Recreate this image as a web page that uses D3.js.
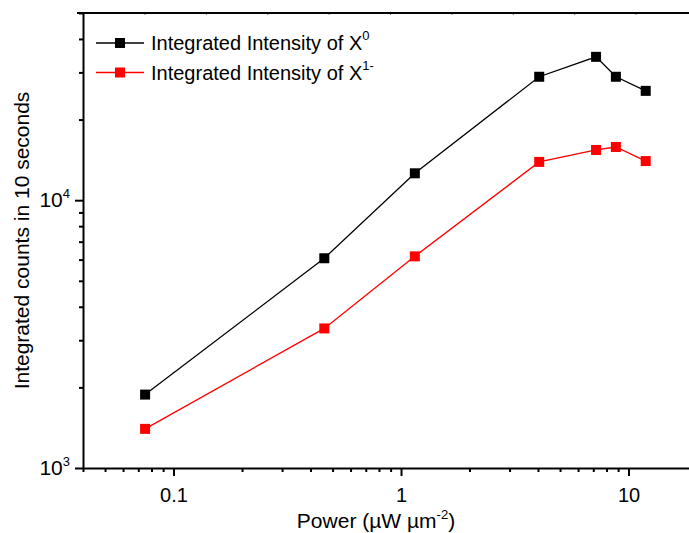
<!DOCTYPE html>
<html>
<head>
<meta charset="utf-8">
<script src="https://cdn.jsdelivr.net/npm/d3@7"></script>
<style>
  body { margin: 0; background: #fff; }
  svg text { font-family: "Liberation Sans", Arial, sans-serif; fill: #000; }
</style>
</head>
<body>
<svg id="chart" width="689" height="533"></svg>
<script>
// data
const power = [0.075, 0.46, 1.15, 4.05, 7.2, 8.8, 11.9];
const neutral = [1880, 6070, 12600, 28900, 34300, 28900, 25600];
const trion = [1400, 3320, 6170, 13900, 15400, 15800, 14000];
const xMajor = [0.1, 1, 10];
const xMinor = [0.04, 0.05, 0.06, 0.07, 0.08, 0.09, 0.2, 0.3, 0.4, 0.5, 0.6, 0.7, 0.8, 0.9, 2, 3, 4, 5, 6, 7, 8, 9, 20];
const yMajor = [1000, 10000];
const yMinor = [2000, 3000, 4000, 5000, 6000, 7000, 8000, 9000, 20000, 30000, 40000, 50000];
const legendBase = "Integrated Intensity of X";
const legendSup = ["0", "1-"];
const colors = ["#000000", "#ff0000"];

const svg = d3.select('#chart');
const margin = { left: 83, top: 13 };
const plotW = 614, plotH = 455;

const x = d3.scaleLog().domain([0.04, 20]).range([margin.left, margin.left + plotW]);
const y = d3.scaleLog().domain([1000, 50000]).range([margin.top + plotH, margin.top]);
const bottom = margin.top + plotH;

// top axis: faint linear ticks as in the original frame
const topScale = d3.scaleLinear().domain([0, 10]).range([margin.left, margin.left + plotW]);
svg.append('g')
    .attr('transform', `translate(0,${margin.top})`)
    .call(d3.axisTop(topScale).ticks(10).tickSize(-2).tickFormat(''))
    .call(g => g.select('.domain').remove())
    .call(g => g.selectAll('line').attr('stroke', '#777').attr('stroke-width', 1));
svg.append('line')
    .attr('x1', margin.left - 6).attr('x2', margin.left + plotW)
    .attr('y1', margin.top).attr('y2', margin.top)
    .attr('stroke', '#000').attr('stroke-width', 2);

// bottom axis
svg.append('g')
    .attr('transform', `translate(0,${bottom})`)
    .call(d3.axisBottom(x).tickValues(xMinor).tickSize(4).tickFormat(''))
    .call(g => g.select('.domain').remove())
    .call(g => g.selectAll('line').attr('stroke-width', 2));
svg.append('g')
    .attr('transform', `translate(0,${bottom})`)
    .call(d3.axisBottom(x).tickValues(xMajor).tickSize(8).tickSizeOuter(0).tickPadding(12).tickFormat(d3.format('~g')))
    .call(g => g.select('.domain').attr('stroke-width', 2))
    .call(g => g.selectAll('line').attr('stroke-width', 2))
    .call(g => g.selectAll('text').attr('font-size', 20).attr('font-family', '"Liberation Sans", Arial, sans-serif'));

// left axis
svg.append('g')
    .attr('transform', `translate(${margin.left},0)`)
    .call(d3.axisLeft(y).tickValues(yMinor).tickSize(4).tickFormat(''))
    .call(g => g.select('.domain').remove())
    .call(g => g.selectAll('line').attr('stroke-width', 2));
const yAxis = svg.append('g')
    .attr('transform', `translate(${margin.left},0)`)
    .call(d3.axisLeft(y).tickValues(yMajor).tickSize(8).tickSizeOuter(0).tickPadding(5).tickFormat(''))
    .call(g => g.select('.domain').attr('stroke-width', 2))
    .call(g => g.selectAll('line').attr('stroke-width', 2));
yAxis.selectAll('.tick text').each(function (d) {
    const t = d3.select(this).attr('font-size', 21).attr('font-family', '"Liberation Sans", Arial, sans-serif');
    t.append('tspan').text('10');
    t.append('tspan').attr('font-size', 13).attr('dy', -9).text(Math.round(Math.log10(d)));
});

// axis titles
svg.append('text')
    .attr('x', 376).attr('y', 528)
    .attr('text-anchor', 'middle').attr('font-size', 21)
    .call(t => {
        t.append('tspan').text('Power (\u00b5W \u00b5m');
        t.append('tspan').attr('font-size', 13).attr('dy', -9).text('-2');
        t.append('tspan').attr('dy', 9).text(')');
    });
svg.append('text')
    .attr('transform', `translate(29,${margin.top + plotH / 2}) rotate(-90)`)
    .attr('text-anchor', 'middle').attr('font-size', 21)
    .text('Integrated counts in 10 seconds');

// series
const series = [neutral, trion];
const line = d3.line().x(d => x(d[0])).y(d => y(d[1]));
series.forEach((vals, i) => {
    const pts = power.map((p, j) => [p, vals[j]]);
    svg.append('path').datum(pts)
        .attr('fill', 'none').attr('stroke', colors[i]).attr('stroke-width', 1.3)
        .attr('d', line);
    svg.append('g').selectAll('rect').data(pts).join('rect')
        .attr('x', d => x(d[0]) - 5).attr('y', d => y(d[1]) - 5)
        .attr('width', 10).attr('height', 10)
        .attr('fill', colors[i]);
});

// legend
const legend = svg.append('g').attr('transform', 'translate(96,43)');
legendSup.forEach((sup, i) => {
    const row = legend.append('g').attr('transform', `translate(0,${i * 29.5})`);
    row.append('line').attr('x1', 0).attr('x2', 48).attr('y1', 0).attr('y2', 0)
        .attr('stroke', colors[i]).attr('stroke-width', 1.3);
    row.append('rect').attr('x', 19).attr('y', -5).attr('width', 10).attr('height', 10).attr('fill', colors[i]);
    const t = row.append('text').attr('x', 55).attr('y', 7).attr('font-size', 20);
    t.append('tspan').text(legendBase);
    t.append('tspan').attr('font-size', 13).attr('dy', -10).text(sup);
});
</script>
</body>
</html>
